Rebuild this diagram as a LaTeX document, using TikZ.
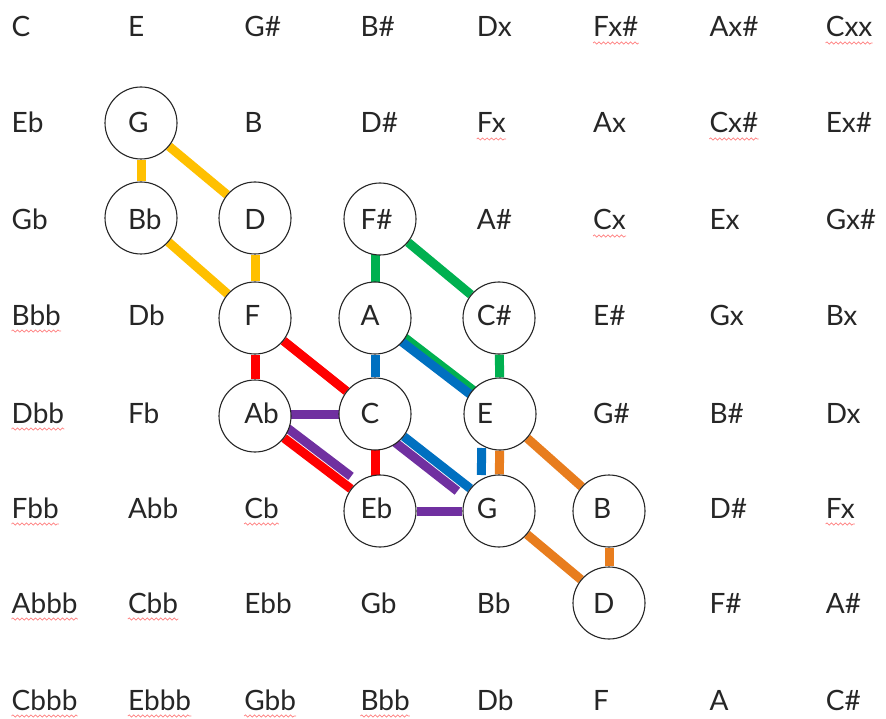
\documentclass[tikz,border=0pt]{standalone}
\usepackage{fontspec}
\setmainfont{Lato}
\usetikzlibrary{calc,decorations.pathmorphing}
\pgfdeclarelayer{bg}
\pgfsetlayers{bg,main}
\definecolor{cyel}{HTML}{FFC000}
\definecolor{cgrn}{HTML}{00B050}
\definecolor{cred}{HTML}{FF0000}
\definecolor{cblu}{HTML}{0070C0}
\definecolor{cpur}{HTML}{7030A0}
\definecolor{corg}{HTML}{E87D1E}
\begin{document}
\begin{tikzpicture}[x=1pt,y=-1pt,
  lbl/.style={anchor=base west, inner sep=0pt, font=\fontsize{28pt}{31pt}\selectfont, text=black!85},
  ring/.style={circle, draw=black!85, line width=1.1pt, fill=white, minimum size=72pt, inner sep=0pt},
  con/.style={line width=9pt},
  squig/.style={draw=red!50, line width=0.7pt, decorate, decoration={snake, amplitude=1.1pt, segment length=4.5pt}}]
\useasboundingbox (0,0) rectangle (886,719);
% circles
\node[ring] (cG)  at (141,123) {};
\node[ring] (cBb) at (141,218) {};
\node[ring] (cD)  at (255,218) {};
\node[ring] (cFs) at (380,219) {};
\node[ring] (cF)  at (255,318) {};
\node[ring] (cA)  at (375,318) {};
\node[ring] (cCs) at (499,318) {};
\node[ring] (cAb) at (255,416) {};
\node[ring] (cC)  at (375,414) {};
\node[ring] (cE)  at (500,414) {};
\node[ring] (cEb) at (380,511) {};
\node[ring] (cG2) at (499,511) {};
\node[ring] (cB)  at (609,511) {};
\node[ring] (cD2) at (609,603) {};
\begin{pgfonlayer}{bg}
% yellow
\draw[con,cyel] (cG) -- (cBb);
\draw[con,cyel] (cG) -- (cD);
\draw[con,cyel] (cBb) -- (cF);
\draw[con,cyel] (cD) -- (cF);
% green
\draw[con,cgrn] (cFs) -- (cCs);
\draw[con,cgrn] (cA.center) -- (cA.center |- cFs.center);
\draw[con,cgrn] (cCs) -- (cE);
\draw[con,cgrn] ($(cA.center)!2.5pt!90:(cE.center)$) -- ($(cE.center)!2.5pt!-90:(cA.center)$);
% blue
\draw[con,cblu] ($(cA.center)!2.5pt!-90:(cE.center)$) -- ($(cE.center)!2.5pt!90:(cA.center)$);
\draw[con,cblu] (cA) -- (cC);
\draw[con,cblu] (cC) -- (cG2);
\draw[con,cblu,shorten <=34pt,shorten >=36pt] ($(cE.center)+(-18,0)$) -- ($(cG2.center)+(-18,0)$);
% red
\draw[con,cred] (cF) -- (cAb);
\draw[con,cred] (cF) -- (cC);
\draw[con,cred] (cAb) -- (cEb);
\draw[con,cred] (cC.center) -- (cC.center |- cEb.center);
% purple
\draw[con,cpur] (cAb.center |- cC.center) -- (cC.center);
\draw[con,cpur] (cEb) -- (cG2);
\draw[con,cpur,shorten >=44pt] ($(cAb.center)!10pt!90:(cEb.center)$) -- ($(cEb.center)!10pt!-90:(cAb.center)$);
\draw[con,cpur,shorten >=45pt] ($(cC.center)!10pt!-90:(cG2.center)$) -- ($(cG2.center)!10pt!90:(cC.center)$);
% orange
\draw[con,corg] (cE) -- (cG2);
\draw[con,corg] (cE) -- (cB);
\draw[con,corg] (cG2) -- (cD2);
\draw[con,corg] (cB) -- (cD2);
\end{pgfonlayer}
% grid labels
\foreach \t [count=\c] in {C,E,G\#,B\#,Dx,Fx\#,Ax\#,Cxx}
  \node[lbl] (r1c\c) at ({11.5+116.3*(\c-1)},37) {\t};
\foreach \t [count=\c] in {Eb,G,B,D\#,Fx,Ax,Cx\#,Ex\#}
  \node[lbl] (r2c\c) at ({11.5+116.3*(\c-1)},133) {\t};
\foreach \t [count=\c] in {Gb,Bb,D,F\#,A\#,Cx,Ex,Gx\#}
  \node[lbl] (r3c\c) at ({11.5+116.3*(\c-1)},230) {\t};
\foreach \t [count=\c] in {Bbb,Db,F,A,C\#,E\#,Gx,Bx}
  \node[lbl] (r4c\c) at ({11.5+116.3*(\c-1)},325) {\t};
\foreach \t [count=\c] in {Dbb,Fb,Ab,C,E,G\#,B\#,Dx}
  \node[lbl] (r5c\c) at ({11.5+116.3*(\c-1)},423) {\t};
\foreach \t [count=\c] in {Fbb,Abb,Cb,Eb,G,B,D\#,Fx}
  \node[lbl] (r6c\c) at ({11.5+116.3*(\c-1)},518) {\t};
\foreach \t [count=\c] in {Abbb,Cbb,Ebb,Gb,Bb,D,F\#,A\#}
  \node[lbl] (r7c\c) at ({11.5+116.3*(\c-1)},613) {\t};
\foreach \t [count=\c] in {Cbbb,Ebbb,Gbb,Bbb,Db,F,A,C\#}
  \node[lbl] (r8c\c) at ({11.5+116.3*(\c-1)},710) {\t};
% spell-check underlines
\foreach \n in {r1c6,r1c8,r2c5,r2c7,r3c6,r4c1,r5c1,r6c1,r6c3,r6c8,r7c1,r7c2,r8c1,r8c2,r8c3,r8c4}
  \draw[squig] ([yshift=-6pt]\n.base west) -- ([yshift=-6pt]\n.base east);
\end{tikzpicture}
\end{document}
